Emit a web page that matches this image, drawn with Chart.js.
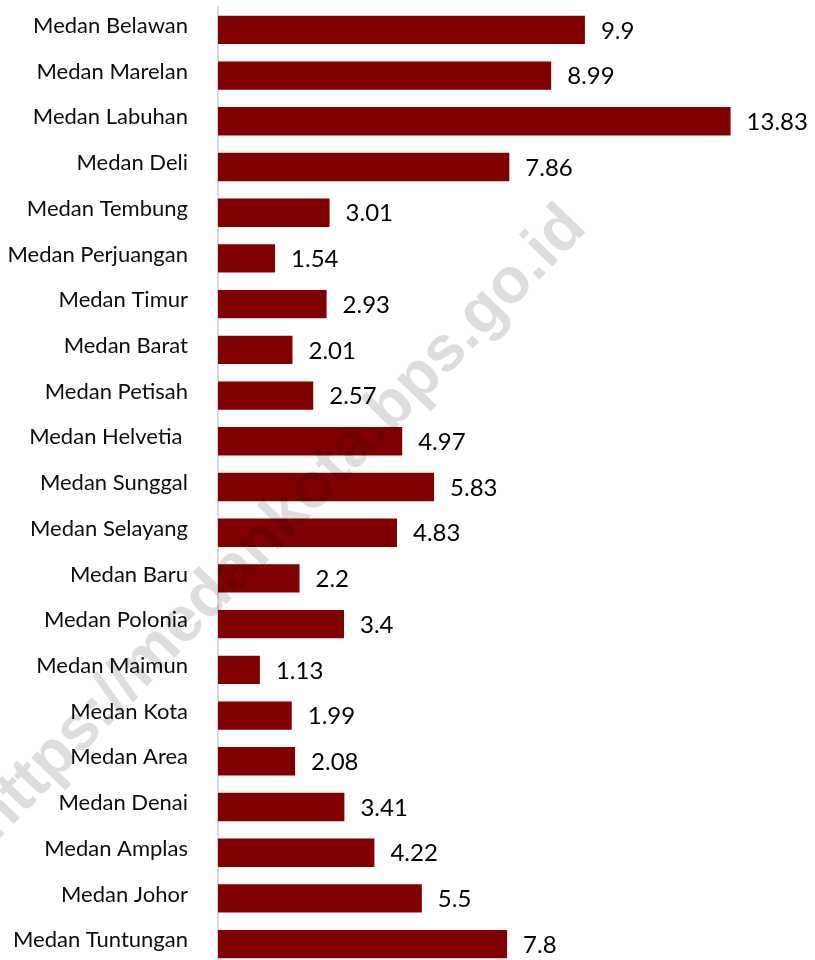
<!DOCTYPE html>
<html>
<head>
<meta charset="utf-8">
<script src="https://cdn.jsdelivr.net/npm/chart.js@4"></script>
<style>
  html, body { margin: 0; padding: 0; background: #fff; overflow: hidden; }
</style>
</head>
<body>
<canvas id="chart" width="815" height="967"></canvas>
<script>
// Kecamatan di Kota Medan
const districts = [
  "Medan Belawan", "Medan Marelan", "Medan Labuhan", "Medan Deli", "Medan Tembung",
  "Medan Perjuangan", "Medan Timur", "Medan Barat", "Medan Petisah", "Medan Helvetia ",
  "Medan Sunggal", "Medan Selayang", "Medan Baru", "Medan Polonia", "Medan Maimun",
  "Medan Kota", "Medan Area", "Medan Denai", "Medan Amplas", "Medan Johor", "Medan Tuntungan",
]
const values = [
  9.9, 8.99, 13.83, 7.86, 3.01,
  1.54, 2.93, 2.01, 2.57, 4.97,
  5.83, 4.83, 2.2, 3.4, 1.13,
  1.99, 2.08, 3.41, 4.22, 5.5, 7.8,
]
const watermarkText = "https://medankota.bps.go.id"

// watermark goes between bars and axis labels
const watermark = {
  id: "watermark",
  afterDatasetsDraw(chart) {
    const ctx = chart.ctx
    ctx.save()
    ctx.translate(292, 536)
    ctx.rotate(-46 * Math.PI / 180)
    ctx.font = "bold 64px 'Liberation Sans', Arial, sans-serif"
    ctx.fillStyle = "rgba(0, 0, 0, 0.13)"
    ctx.textAlign = "center"
    ctx.textBaseline = "alphabetic"
    ctx.fillText(watermarkText, 0, 0)
    ctx.restore()
  },
}

// value labels to the right of each bar
const valueLabels = {
  id: "valueLabels",
  afterDraw(chart) {
    const ctx = chart.ctx
    const meta = chart.getDatasetMeta(0)
    ctx.save()
    ctx.font = "24px Lato, sans-serif"
    ctx.fillStyle = "#000"
    ctx.textAlign = "left"
    ctx.textBaseline = "middle"
    meta.data.forEach((bar, i) => {
      ctx.fillText(String(values[i]), bar.x + 16, bar.y + 1)
    })
    ctx.restore()
  },
}

new Chart(document.getElementById("chart"), {
  type: "bar",
  data: {
    labels: districts,
    datasets: [
      {
        data: values,
        backgroundColor: "#800000",
        borderWidth: 0,
        barPercentage: 0.62,
        categoryPercentage: 1,
      },
    ],
  },
  options: {
    indexAxis: "y",
    responsive: false,
    animation: false,
    layout: { padding: { top: 7, right: 4, bottom: 0, left: 0 } },
    plugins: {
      legend: { display: false },
      tooltip: { enabled: false },
    },
    scales: {
      x: {
        display: false,
        min: 0,
        max: 16,
      },
      y: {
        z: 1,
        afterFit: (scale) => {
          scale.width = 218
          scale.paddingTop = 0
          scale.paddingBottom = 0
        },
        grid: { display: false, drawTicks: false },
        border: { display: true, color: "#d9d9d9", width: 2 },
        ticks: {
          padding: 30,
          color: "#0d0d0d",
          // empty 2nd line nudges the name a few px above the bar centre
          callback: function (value) {
            return [this.getLabelForValue(value), ""]
          },
          font: { family: "Lato, sans-serif", size: 22, lineHeight: 0.36 },
        },
      },
    },
  },
  plugins: [watermark, valueLabels],
})
</script>
</body>
</html>
